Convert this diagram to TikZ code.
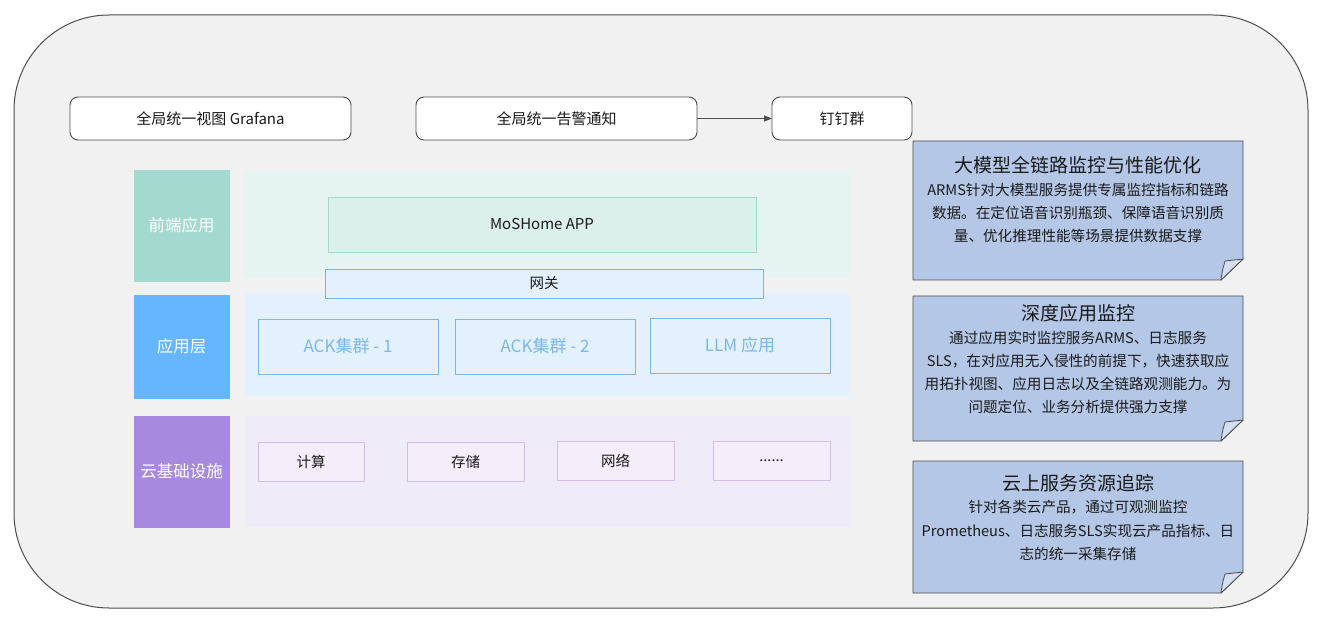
\documentclass[tikz,border=0pt]{standalone}
\usepackage{fontspec}
\setmainfont{Noto Sans CJK SC}
\usetikzlibrary{arrows.meta}
\definecolor{outerfill}{HTML}{F1F1F1}
\definecolor{outerline}{HTML}{4D4D4D}
\definecolor{txt}{HTML}{1A1A1A}
\definecolor{feC}{HTML}{A3D9CF}
\definecolor{appC}{HTML}{66B5FF}
\definecolor{infC}{HTML}{A78AE0}
\definecolor{fePanel}{HTML}{E6F4F1}
\definecolor{appPanel}{HTML}{E3F0FD}
\definecolor{infPanel}{HTML}{F0EBF8}
\definecolor{mosFill}{HTML}{DBF0EA}
\definecolor{gwLine}{HTML}{75B5E6}
\definecolor{ackC}{HTML}{7AB8EA}
\definecolor{infBoxFill}{HTML}{F3EEFA}
\definecolor{infBoxLine}{HTML}{D2BFE8}
\definecolor{noteFill}{HTML}{B4C7E7}
\definecolor{flapFill}{HTML}{D4DEF0}
\begin{document}
\begin{tikzpicture}[x=1pt,y=-1pt,
  every node/.style={inner sep=0pt, outer sep=0pt},
  topbox/.style={draw=outerline, fill=white, rounded corners=8pt, line width=0.9pt, text=txt, font=\fontsize{15}{17}\selectfont},
  lblbox/.style={fill=#1, draw=#1, text=white, font=\fontsize{16.5}{20}\selectfont},
  panelbox/.style={fill=#1, draw=none},
  ackbox/.style={draw=ackC, line width=0.9pt, text=ackC, font=\fontsize{17}{19}\selectfont},
  infbox/.style={draw=infBoxLine, fill=infBoxFill, line width=0.9pt, text=txt, font=\fontsize{14.5}{17}\selectfont},
  noteanchor/.style={draw=none},
  noteshape/.style={draw=outerline, fill=noteFill, line width=0.9pt},
  flapshape/.style={draw=outerline, fill=flapFill, line width=0.8pt, line join=round},
  notetitle/.style={text=txt, font=\fontsize{19}{22}\selectfont},
  notebody/.style={text=txt, align=center, font=\fontsize{14.6}{23.3}\selectfont}
]
\useasboundingbox (0,0) rectangle (1326,628);

% outer container
\node[draw=outerline, fill=outerfill, line width=1pt, rounded corners=95pt,
      minimum width=1294pt, minimum height=593pt] (outer) at (661,311.5) {};

% top row
\node[topbox, minimum width=281pt, minimum height=43pt] (grafana) at (210.5,118.5) {全局统一视图 Grafana};
\node[topbox, minimum width=281pt, minimum height=43pt] (alert) at (556.5,118.5) {全局统一告警通知};
\node[topbox, minimum width=140pt, minimum height=43pt] (ding) at (842,118.5) {钉钉群};
\draw[-{Triangle[length=8pt,width=6pt]}, draw=outerline, fill=outerline, line width=0.9pt] (alert) -- (ding);

% left labels
\node[lblbox=feC, minimum width=95pt, minimum height=111pt] (fe) at (181.5,225.5) {前端应用};
\node[lblbox=appC, minimum width=95pt, minimum height=103pt] (app) at (181.5,346.5) {应用层};
\node[lblbox=infC, minimum width=95pt, minimum height=111pt] (infra) at (181.5,471.5) {云基础设施};

% panels
\node[panelbox=fePanel, minimum width=606pt, minimum height=107pt] (fep) at (546,224.5) {};
\node[panelbox=appPanel, minimum width=604pt, minimum height=103pt] (appp) at (547,344.5) {};
\node[panelbox=infPanel, minimum width=603pt, minimum height=111pt] (infp) at (547.5,471.5) {};

% frontend
\node[draw=feC, fill=mosFill, line width=0.9pt, text=txt, font=\fontsize{15}{17}\selectfont,
      minimum width=428pt, minimum height=55pt] (mos) at (542,224.5) {MoSHome APP};
\node[draw=gwLine, fill=appPanel, line width=0.9pt, text=txt, font=\fontsize{14.5}{17}\selectfont,
      minimum width=438pt, minimum height=29pt] (gw) at (544,283.5) {网关};

% application layer
\node[ackbox, minimum width=180pt, minimum height=55pt] (ack1) at (348,346.5) {ACK集群 - 1};
\node[ackbox, minimum width=180pt, minimum height=55pt] (ack2) at (545,346.5) {ACK集群 - 2};
\node[ackbox, minimum width=180pt, minimum height=55pt] (llm) at (740,345.5) {LLM 应用};

% infrastructure
\node[infbox, minimum width=106pt, minimum height=39pt] (calc) at (311,461.5) {计算};
\node[infbox, minimum width=117pt, minimum height=39pt] (store) at (465.5,461.5) {存储};
\node[infbox, minimum width=117pt, minimum height=39pt] (net) at (615.5,460.5) {网络};
\node[infbox, minimum width=117pt, minimum height=39pt] (more) at (771.5,460.5) {......};

% notes
\node[noteanchor, minimum width=330pt, minimum height=139pt] (n1) at (1078,210.5) {};
\node[noteanchor, minimum width=330pt, minimum height=145pt] (n2) at (1078,368.5) {};
\node[noteanchor, minimum width=330pt, minimum height=132pt] (n3) at (1078,527) {};
\foreach \n in {n1,n2,n3}{
  \draw[noteshape] (\n.north west) -- (\n.north east) -- ([yshift=21pt]\n.south east)
     -- ([xshift=-22pt]\n.south east) -- (\n.south west) -- cycle;
  \draw[flapshape] ([xshift=-22pt]\n.south east) .. controls ([xshift=-21pt,yshift=8pt]\n.south east) .. ([xshift=-18pt,yshift=19pt]\n.south east)
     -- ([yshift=21pt]\n.south east) -- cycle;
}

\node[notetitle] (n1t) at (1078,165) {大模型全链路监控与性能优化};
\node[notebody] (n1b) at (1078,213) {ARMS针对大模型服务提供专属监控指标和链路\\数据。在定位语音识别瓶颈、保障语音识别质\\量、优化推理性能等场景提供数据支撑};

\node[notetitle] (n2t) at (1078,313) {深度应用监控};
\node[notebody] (n2b) at (1078,372.5) {通过应用实时监控服务ARMS、日志服务\\SLS，在对应用无入侵性的前提下，快速获取应\\用拓扑视图、应用日志以及全链路观测能力。为\\问题定位、业务分析提供强力支撑};

\node[notetitle] (n3t) at (1078,483) {云上服务资源追踪};
\node[notebody] (n3b) at (1078,530.5) {针对各类云产品，通过可观测监控\\Prometheus、日志服务SLS实现云产品指标、日\\志的统一采集存储};
\end{tikzpicture}
\end{document}
